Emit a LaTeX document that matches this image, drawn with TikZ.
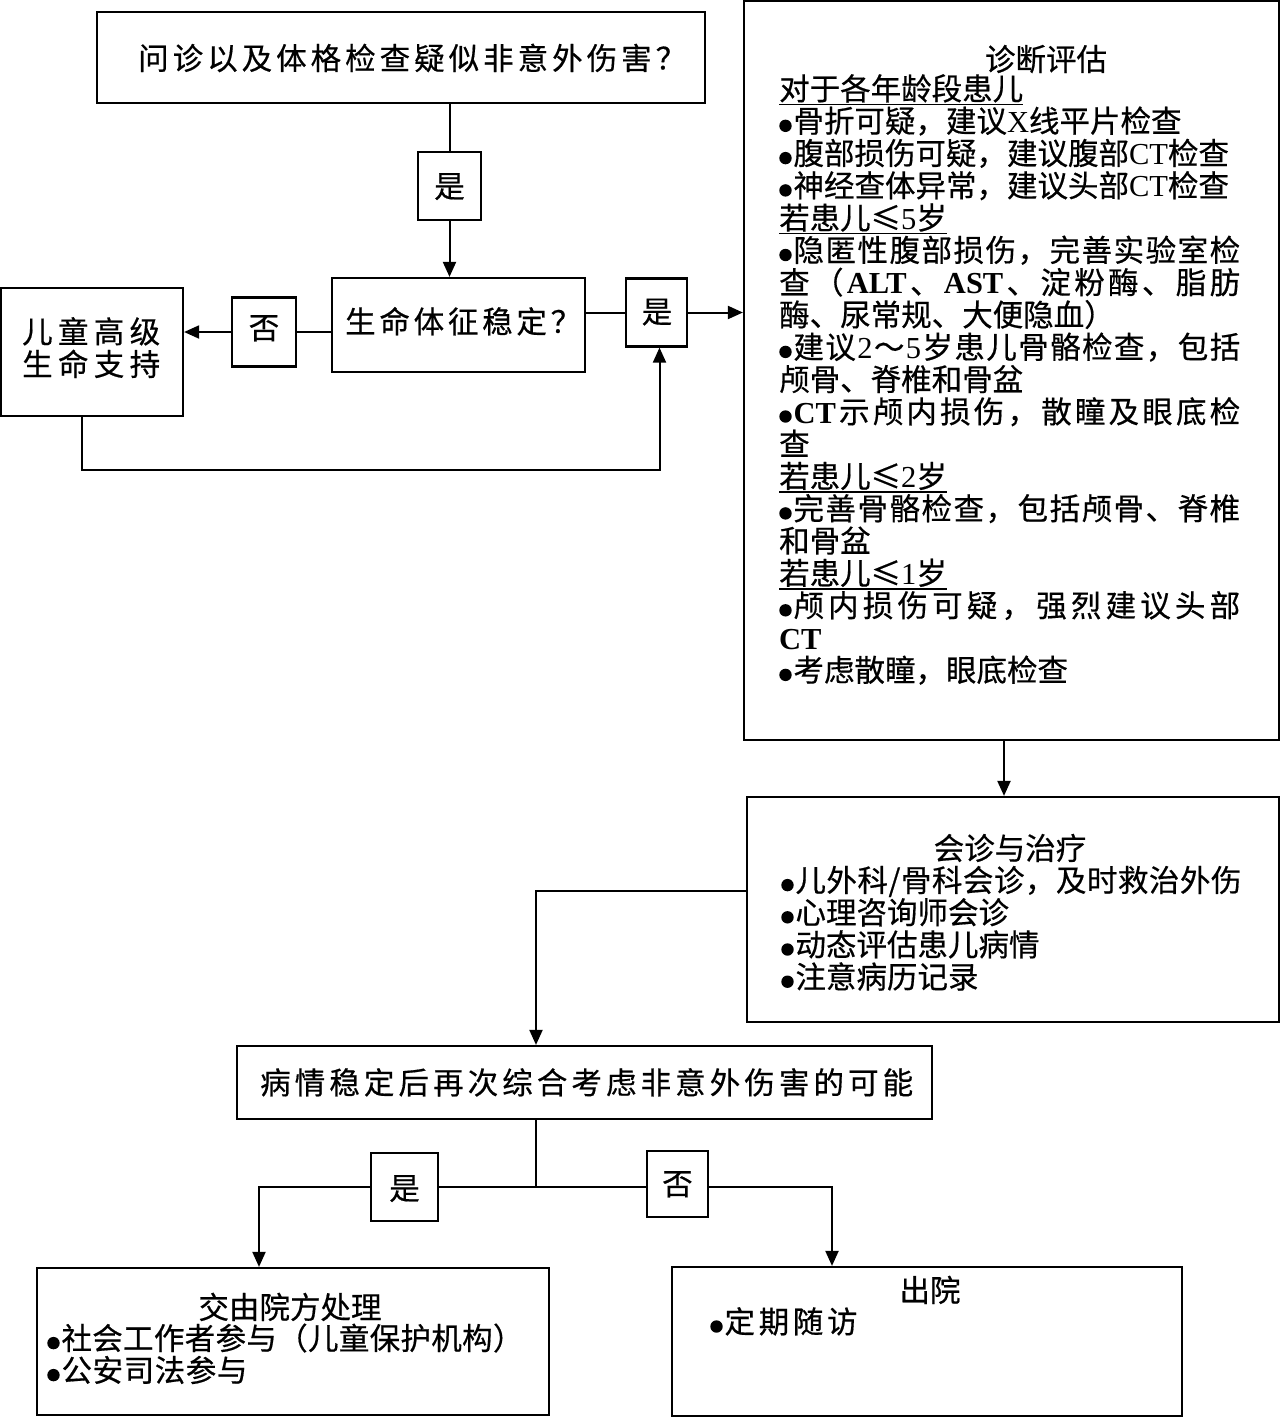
\documentclass[tikz,border=0pt]{standalone}
\usepackage{fontspec}
\setmainfont{Noto Sans CJK SC}[FakeBold=0.5]
\newfontfamily\latf{Liberation Serif}
\usetikzlibrary{arrows.meta}
\makeatletter
\newcommand\spr[2]{\hbox to #1{\let\spr@sep\relax\@tfor\spr@c:=#2\do{\spr@sep{\spr@c}\let\spr@sep\hfil}}}
\makeatother
\newcommand\bul{\tikz[baseline=0pt]{\fill (0pt,6.5pt) circle[radius=6.2pt]; \useasboundingbox (-6.3pt,0pt) rectangle (8pt,1pt);}}
\newcommand\ulx[1]{\setbox0=\hbox{#1}\rlap{\rule[-5.1pt]{\wd0}{1.6pt}}\box0}
\tikzset{
  box/.style={draw, line width=2.2pt, inner sep=0pt},
  lbox/.style={draw, line width=2.2pt, inner sep=0pt, fill=white},
  txt/.style={inner sep=0pt, anchor=base},
  txtl/.style={inner sep=0pt, anchor=base west},
  ln/.style={line width=2pt},
  arr/.style={line width=2pt, -{Triangle[length=15pt,width=13pt]}},
}
\begin{document}
\begin{tikzpicture}[x=1pt,y=-1pt,font=\fontsize{30.5}{32.3}\selectfont]
\useasboundingbox (0,0) rectangle (1280,1417);
% boxes
\node[box, minimum width=608pt, minimum height=91pt] (b1) at (401,57.5) {};
\node[box, minimum width=63pt, minimum height=68pt] (yes1) at (449.5,186) {};
\node[box, minimum width=253pt, minimum height=94pt] (b2) at (458.5,325) {};
\node[box, minimum width=64pt, minimum height=69pt] (no1) at (264,332) {};
\node[box, minimum width=182pt, minimum height=128pt] (b3) at (92,352) {};
\node[box, minimum width=61pt, minimum height=68pt] (yes2) at (656.5,312.5) {};
\node[box, minimum width=535pt, minimum height=739pt] (big) at (1011.5,370.5) {};
\node[box, minimum width=532pt, minimum height=225pt] (b5) at (1013,909.5) {};
\node[box, minimum width=695pt, minimum height=73pt] (b6) at (584.5,1082.5) {};
\node[box, minimum width=512pt, minimum height=147pt] (b7) at (293,1341.5) {};
\node[box, minimum width=510pt, minimum height=149pt] (b8) at (927,1341.5) {};
% connectors
\draw[ln] (b1.south -| yes1.north) -- (yes1.north);
\draw[arr] (yes1.south) -- (yes1.south |- b2.north);
\draw[ln] (b2.west |- no1.east) -- (no1.east);
\draw[arr] (no1.west) -- (no1.west -| b3.east);
\draw[ln] (b2.east |- yes2.west) -- (yes2.west);
\draw[arr] (yes2.east) -- (yes2.east -| big.west);
\coordinate (loopy) at (0,470);
\draw[arr] ([xshift=-10pt]b3.south) |- ([xshift=3pt]yes2.south |- loopy) -- ([xshift=3pt]yes2.south);
\draw[arr] ([xshift=-7.5pt]big.south) -- ([xshift=-7.5pt]big.south |- b5.north);
\draw[arr] ([yshift=18.5pt]b5.west) -| ([xshift=-48.5pt]b6.north);
\coordinate (jn) at (536,1187);
\draw[ln] ([xshift=-48.5pt]b6.south) -- (jn);
\draw[arr] (jn) -| ([xshift=-34pt]b7.north);
\draw[arr] (jn) -| ([xshift=-95pt]b8.north);
\node[lbox, minimum width=67pt, minimum height=68pt] (yes3) at (404.5,1187) {};
\node[lbox, minimum width=61pt, minimum height=66pt] (no3) at (677.5,1184) {};
% texts
\node[txtl] (t1) at (138,69.6) {\spr{548pt}{问诊以及体格检查疑似非意外伤害？}};
\node[txt] (ty1) at (449.5,197.6) {是};
\node[txtl] (t2) at (345,333) {\spr{236pt}{生命体征稳定？}};
\node[txt] (tn1) at (264,339) {否};
\node[txtl] (t3) at (22,343) {\vtop{\baselineskip=32.6pt\lineskiplimit=-100pt
  \spr{138pt}{儿童高级}\spr{138pt}{生命支持}}};
\node[txt] (ty2) at (657,323) {是};
\node[txt] (tdx) at (1046,70.6) {诊断评估};
\node[txtl] (tbody) at (779,100) {\vtop{\baselineskip=32.3pt\lineskiplimit=-100pt
  \hbox{\ulx{对于各年龄段患儿}}
  \hbox{\bul 骨折可疑，建议{\latf X}线平片检查}
  \hbox{\bul 腹部损伤可疑，建议腹部{\latf CT}检查}
  \hbox{\bul 神经查体异常，建议头部{\latf CT}检查}
  \hbox{\ulx{若患儿≤{\latf 5}岁}}
  \spr{461pt}{{\bul 隐}匿性腹部损伤，完善实验室检}
  \spr{461pt}{查（{\latf\bfseries ALT}、{\latf\bfseries AST}、淀粉酶、脂肪}
  \hbox{酶、尿常规、大便隐血）}
  \spr{461pt}{{\bul 建}议{\latf 2}～{\latf 5}岁患儿骨骼检查，包括}
  \hbox{颅骨、脊椎和骨盆}
  \spr{461pt}{{\bul{\latf\bfseries CT}}示颅内损伤，散瞳及眼底检}
  \hbox{查}
  \hbox{\ulx{若患儿≤{\latf 2}岁}}
  \spr{461pt}{{\bul 完}善骨骼检查，包括颅骨、脊椎}
  \hbox{和骨盆}
  \hbox{\ulx{若患儿≤{\latf 1}岁}}
  \spr{461pt}{{\bul 颅}内损伤可疑，强烈建议头部}
  \hbox{{\latf\bfseries CT}}
  \hbox{\bul 考虑散瞳，眼底检查}}};
\node[txt] (t5t) at (1010,859.6) {会诊与治疗};
\node[txtl] (t5b) at (781,891.6) {\vtop{\baselineskip=32.2pt\lineskiplimit=-100pt
  \hbox{\bul\spr{446pt}{儿外科/骨科会诊，及时救治外伤}}
  \hbox{\bul 心理咨询师会诊}
  \hbox{\bul 动态评估患儿病情}
  \hbox{\bul 注意病历记录}}};
\node[txtl] (t6) at (260,1094) {\spr{653pt}{病情稳定后再次综合考虑非意外伤害的可能}};
\node[txt] (ty3) at (404.5,1199.6) {是};
\node[txt] (tn3) at (677.5,1195) {否};
\node[txt] (t7t) at (290,1318.6) {交由院方处理};
\node[txtl] (t7b) at (47,1349.6) {\vtop{\baselineskip=32pt\lineskiplimit=-100pt
  \hbox{\bul\spr{462pt}{社会工作者参与（儿童保护机构）}}
  \hbox{\bul\spr{186pt}{公安司法参与}}}};
\node[txt] (t8t) at (930,1301.6) {出院};
\node[txtl] (t8b) at (710,1333) {\hbox{\bul\spr{133pt}{定期随访}}};
\end{tikzpicture}
\end{document}
